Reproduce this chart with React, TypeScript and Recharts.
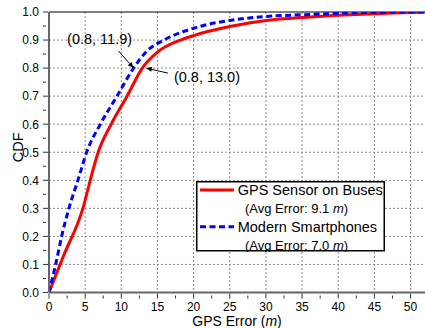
import React from 'react';
import { LineChart, Line, XAxis, YAxis, CartesianGrid, ReferenceLine, ReferenceDot, Legend } from 'recharts';

// GPS Sensor on Buses
const busErr = [0, 2, 4.8, 5.7, 6.8, 8.6, 10.8, 12.9, 15, 18.2, 20, 25, 30, 35, 40, 45, 50, 52];
const busCdf = [0, 0.13, 0.31, 0.4, 0.5, 0.6, 0.7, 0.8, 0.857, 0.9, 0.916, 0.948, 0.97, 0.98, 0.988, 0.994, 0.998, 1.0];
// Modern Smartphones
const phoneErr = [0, 0.92, 1.75, 2.75, 4.0, 5.2, 7.1, 9.4, 11.7, 13.5, 15.9, 20.8, 25, 30, 35, 40, 45, 50, 52];
const phoneCdf = [0, 0.1, 0.2, 0.3, 0.4, 0.5, 0.6, 0.7, 0.8, 0.86, 0.9, 0.948, 0.97, 0.984, 0.99, 0.995, 0.999, 1.0, 1.0];

const seriesNames = ['GPS Sensor on Buses', 'Modern Smartphones'];
const avgErrors = ['9.1', '7.0'];
const seriesColors = ['#ff0000', '#0000ff'];

const xMajor = [0, 5, 10, 15, 20, 25, 30, 35, 40, 45, 50];
const xMinor = [2.5, 7.5, 12.5, 17.5, 22.5, 27.5, 32.5, 37.5, 42.5, 47.5];
const yMajor = [0, 0.1, 0.2, 0.3, 0.4, 0.5, 0.6, 0.7, 0.8, 0.9, 1.0];
const yMinor = [0.05, 0.15, 0.25, 0.35, 0.45, 0.55, 0.65, 0.75, 0.85, 0.95];
const xGrid = [5, 10, 15, 20, 25, 30, 35, 40, 45, 50];
const yGrid = [0.1, 0.2, 0.3, 0.4, 0.5, 0.6, 0.7, 0.8, 0.9];

// annotation anchors (CDF, error) and labels
const annPhone = { x: 11.7, y: 0.8, label: '(0.8, 11.9)' };
const annBus = { x: 13.4, y: 0.8, label: '(0.8, 13.0)' };

const busData = busErr.map((x, i) => ({ x, y: busCdf[i] }));
const phoneData = phoneErr.map((x, i) => ({ x, y: phoneCdf[i] }));
const xTicks = [...xMajor, ...xMinor].sort((a, b) => a - b);
const yTicks = [...yMajor, ...yMinor].sort((a, b) => a - b);

const FONT = 'Liberation Sans, Arial, Helvetica, sans-serif';

const XTick = (props: any) => {
  const { x, y, payload } = props;
  const v = payload.value;
  const major = xMajor.includes(v);
  return (
    <g>
      <line x1={x} x2={x} y1={y} y2={y - (major ? 5 : 3)} stroke="#333" strokeWidth={1} />
      {major && (
        <text x={x} y={y + 12.5} textAnchor="middle" fontSize={12} fontFamily={FONT} fill="#000">
          {v}
        </text>
      )}
    </g>
  );
};

const YTick = (props: any) => {
  const { x, y, payload } = props;
  const v = payload.value;
  const major = Math.round(v * 100) % 10 === 0;
  return (
    <g>
      <line x1={x} x2={x + (major ? 5 : 3)} y1={y} y2={y} stroke="#333" strokeWidth={1} />
      {major && (
        <text x={x - 4} y={y} dy="0.36em" textAnchor="end" fontSize={12} fontFamily={FONT} fill="#000">
          {v.toFixed(1)}
        </text>
      )}
    </g>
  );
};

const Arrow = ({ x1, y1, x2, y2 }: { x1: number; y1: number; x2: number; y2: number }) => {
  const a = Math.atan2(y2 - y1, x2 - x1);
  const L = 6;
  const W = 2.5;
  const bx = x2 - L * Math.cos(a);
  const by = y2 - L * Math.sin(a);
  const px = -Math.sin(a) * W;
  const py = Math.cos(a) * W;
  return (
    <g>
      <line x1={x1} y1={y1} x2={bx} y2={by} stroke="#000" strokeWidth={1} />
      <polygon points={`${x2},${y2} ${bx + px},${by + py} ${bx - px},${by - py}`} fill="#000" />
    </g>
  );
};

const PhoneAnn = (p: any) => {
  const { cx, cy } = p;
  return (
    <g>
      <Arrow x1={cx - 15} y1={cy - 17} x2={cx} y2={cy} />
      <text x={cx - 34} y={cy - 24} textAnchor="middle" fontSize={14.5} fontFamily={FONT} fill="#000">
        {annPhone.label}
      </text>
    </g>
  );
};

const BusAnn = (p: any) => {
  const { cx, cy } = p;
  return (
    <g>
      <Arrow x1={cx + 22} y1={cy + 5} x2={cx} y2={cy} />
      <text x={cx + 28} y={cy + 14} textAnchor="start" fontSize={14.5} fontFamily={FONT} fill="#000">
        {annBus.label}
      </text>
    </g>
  );
};

const LegendBox = (props: any) => {
  const payload = props.payload && props.payload.length ? props.payload : seriesNames.map((n, i) => ({ value: n, color: seriesColors[i] }));
  return (
    <svg width={189} height={71} style={{ display: 'block' }}>
      <rect x={0.75} y={0.75} width={187.5} height={69} fill="#fff" stroke="#000" strokeWidth={1.5} />
      {payload.map((it: any, i: number) => {
        const cy = 9 + i * 36.7;
        const dashed = i === 1;
        return (
          <g key={i}>
            <line x1={4} x2={38} y1={cy} y2={cy} stroke={it.color || seriesColors[i]} strokeWidth={3} strokeDasharray={dashed ? '6 3.5' : undefined} />
            <text x={41.7} y={cy} dy="0.36em" fontSize={14.5} fontFamily={FONT} fill="#000">
              {it.value || seriesNames[i]}
            </text>
            <text x={49} y={cy + 18.8} dy="0.36em" fontSize={13} fontFamily={FONT} fill="#000">
              (Avg Error: {avgErrors[i]} <tspan fontStyle="italic">m</tspan>)
            </text>
          </g>
        );
      })}
    </svg>
  );
};

export default function App() {
  return (
    <div style={{ position: 'absolute', left: 0, top: 0, width: 425, height: 328, background: '#fff' }}>
      <LineChart width={425} height={328} margin={{ top: 12, right: 0, bottom: 0, left: 0 }}>
        <CartesianGrid
          stroke="#8a8a8a"
          strokeDasharray="2 2"
          verticalValues={xGrid}
          horizontalValues={yGrid}
        />
        <XAxis
          type="number"
          dataKey="x"
          domain={[0, 52]}
          ticks={xTicks}
          interval={0}
          allowDataOverflow
          tickLine={false}
          tickMargin={0}
          tick={<XTick />}
          axisLine={{ stroke: '#666', strokeWidth: 2 }}
          height={35.5}
          label={{
            content: (lp: any) => {
              const vb = lp.viewBox || { x: 49, y: 292, width: 376 };
              return (
                <text x={vb.x + vb.width / 2} y={326} textAnchor="middle" fontSize={14} fontFamily={FONT} fill="#000">
                  GPS Error (<tspan fontStyle="italic">m</tspan>)
                </text>
              );
            },
          }}
        />
        <YAxis
          type="number"
          dataKey="y"
          domain={[0, 1]}
          ticks={yTicks}
          interval={0}
          allowDataOverflow
          width={49}
          tickLine={false}
          tickMargin={0}
          tick={<YTick />}
          axisLine={{ stroke: '#666', strokeWidth: 2 }}
          label={{
            content: (lp: any) => {
              const vb = lp.viewBox || { x: 0, y: 12, width: 49, height: 280 };
              const cy = vb.y + vb.height / 2 - 5;
              return (
                <text x={18} y={cy} transform={`rotate(-90 18 ${cy})`} dy="0.36em" textAnchor="middle" fontSize={14.5} fontFamily={FONT} fill="#000">
                  CDF
                </text>
              );
            },
          }}
        />
        <ReferenceLine y={1} stroke="#000" strokeWidth={1} />
        <Line
          data={busData}
          dataKey="y"
          name={seriesNames[0]}
          type="monotone"
          stroke={seriesColors[0]}
          strokeWidth={3}
          dot={false}
          isAnimationActive={false}
        />
        <Line
          data={phoneData}
          dataKey="y"
          name={seriesNames[1]}
          type="monotone"
          stroke={seriesColors[1]}
          strokeWidth={3}
          strokeDasharray="6 3.5"
          dot={false}
          isAnimationActive={false}
        />
        <ReferenceDot x={annPhone.x} y={annPhone.y} r={0} shape={<PhoneAnn />} />
        <ReferenceDot x={annBus.x} y={annBus.y} r={0} shape={<BusAnn />} />
        <Legend
          layout="vertical"
          align="center"
          verticalAlign="middle"
          content={<LegendBox />}
          wrapperStyle={{ position: 'absolute', left: 196, top: 181, width: 189, height: 71 }}
        />
      </LineChart>
    </div>
  );
}
